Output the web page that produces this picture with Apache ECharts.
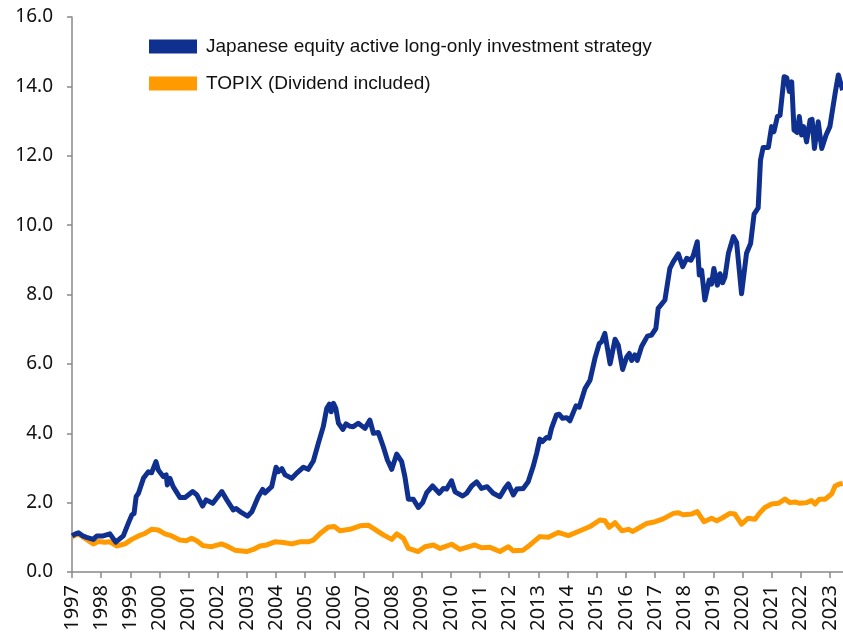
<!DOCTYPE html>
<html>
<head>
<meta charset="utf-8" />
<title>Strategy vs TOPIX</title>
<style>
  html, body { margin: 0; padding: 0; background: #fff; }
  #main { width: 843px; height: 636px; }
</style>
</head>
<body>
<div id="main"></div>
<script src="https://cdn.jsdelivr.net/npm/echarts@6/dist/echarts.min.js"></script>
<script>
// cumulative value, start 1997 = 1.0 (decimal years)
const strategyDates = [1997.0, 1997.12, 1997.22, 1997.35, 1997.5, 1997.73, 1997.85, 1998.07, 1998.3, 1998.5, 1998.76, 1998.93, 1999.05, 1999.13, 1999.2, 1999.28, 1999.45, 1999.62, 1999.73, 1999.88, 1999.96, 2000.13, 2000.23, 2000.27, 2000.36, 2000.47, 2000.7, 2000.88, 2001.14, 2001.28, 2001.48, 2001.6, 2001.83, 2002.14, 2002.31, 2002.53, 2002.63, 2002.82, 2003.02, 2003.17, 2003.39, 2003.54, 2003.62, 2003.85, 2004.0, 2004.08, 2004.2, 2004.31, 2004.54, 2004.71, 2004.94, 2005.1, 2005.28, 2005.45, 2005.62, 2005.74, 2005.83, 2005.89, 2005.97, 2006.05, 2006.14, 2006.29, 2006.4, 2006.54, 2006.65, 2006.82, 2007.05, 2007.22, 2007.34, 2007.51, 2007.68, 2007.82, 2007.97, 2008.14, 2008.31, 2008.42, 2008.54, 2008.71, 2008.88, 2009.03, 2009.17, 2009.37, 2009.6, 2009.74, 2009.85, 2010.02, 2010.14, 2010.4, 2010.54, 2010.71, 2010.88, 2011.05, 2011.24, 2011.45, 2011.68, 2011.85, 2011.97, 2012.14, 2012.26, 2012.48, 2012.65, 2012.82, 2012.94, 2013.05, 2013.14, 2013.28, 2013.37, 2013.45, 2013.62, 2013.71, 2013.83, 2013.97, 2014.08, 2014.29, 2014.4, 2014.6, 2014.77, 2014.94, 2015.09, 2015.17, 2015.28, 2015.46, 2015.63, 2015.74, 2015.89, 2016.03, 2016.12, 2016.2, 2016.31, 2016.39, 2016.54, 2016.74, 2016.88, 2017.03, 2017.11, 2017.34, 2017.51, 2017.63, 2017.8, 2017.95, 2018.09, 2018.23, 2018.31, 2018.45, 2018.52, 2018.6, 2018.71, 2018.86, 2018.94, 2019.02, 2019.14, 2019.23, 2019.32, 2019.4, 2019.52, 2019.69, 2019.8, 2019.97, 2020.14, 2020.28, 2020.4, 2020.54, 2020.62, 2020.71, 2020.89, 2021.0, 2021.08, 2021.2, 2021.29, 2021.43, 2021.52, 2021.61, 2021.69, 2021.77, 2021.88, 2021.95, 2022.03, 2022.1, 2022.2, 2022.32, 2022.39, 2022.47, 2022.6, 2022.72, 2022.87, 2023.0, 2023.18, 2023.29, 2023.44];
const strategyValues = [1.04, 1.1, 1.13, 1.05, 1.0, 0.94, 1.04, 1.04, 1.1, 0.86, 1.04, 1.4, 1.64, 1.69, 2.17, 2.27, 2.7, 2.89, 2.86, 3.18, 2.94, 2.75, 2.8, 2.51, 2.7, 2.46, 2.15, 2.15, 2.32, 2.23, 1.9, 2.08, 1.98, 2.32, 2.08, 1.79, 1.83, 1.71, 1.61, 1.74, 2.17, 2.38, 2.28, 2.46, 3.02, 2.89, 2.98, 2.8, 2.7, 2.85, 3.02, 2.96, 3.2, 3.71, 4.19, 4.72, 4.84, 4.62, 4.86, 4.72, 4.29, 4.11, 4.27, 4.2, 4.19, 4.29, 4.14, 4.38, 4.0, 4.02, 3.61, 3.23, 2.96, 3.4, 3.18, 2.75, 2.1, 2.1, 1.86, 2.0, 2.29, 2.48, 2.27, 2.41, 2.39, 2.63, 2.31, 2.19, 2.27, 2.48, 2.6, 2.41, 2.46, 2.27, 2.17, 2.41, 2.54, 2.22, 2.39, 2.41, 2.6, 3.04, 3.42, 3.83, 3.76, 3.88, 3.86, 4.14, 4.53, 4.55, 4.43, 4.45, 4.36, 4.79, 4.75, 5.29, 5.53, 6.16, 6.59, 6.64, 6.88, 6.0, 6.71, 6.54, 5.84, 6.2, 6.3, 6.1, 6.26, 6.1, 6.5, 6.8, 6.83, 7.02, 7.6, 7.84, 8.75, 8.95, 9.17, 8.8, 9.04, 8.99, 9.11, 9.52, 8.56, 8.7, 7.84, 8.42, 8.3, 8.75, 8.27, 8.6, 8.34, 8.5, 9.19, 9.67, 9.5, 8.02, 9.19, 9.47, 10.32, 10.5, 11.88, 12.24, 12.24, 12.84, 12.69, 13.13, 13.17, 14.28, 14.25, 13.85, 14.13, 12.74, 12.67, 13.13, 12.6, 12.84, 12.4, 13.03, 13.05, 12.21, 12.98, 12.21, 12.6, 12.84, 13.8, 14.33, 13.89];

const topixDates = [1997.0, 1997.22, 1997.5, 1997.73, 1997.9, 1998.13, 1998.3, 1998.53, 1998.82, 1999.05, 1999.28, 1999.5, 1999.73, 1999.96, 2000.19, 2000.42, 2000.7, 2000.92, 2001.1, 2001.28, 2001.5, 2001.79, 2002.13, 2002.36, 2002.59, 2002.99, 2003.22, 2003.45, 2003.68, 2003.96, 2004.25, 2004.54, 2004.82, 2005.1, 2005.28, 2005.5, 2005.79, 2006.0, 2006.19, 2006.54, 2006.88, 2007.16, 2007.39, 2007.68, 2007.97, 2008.14, 2008.37, 2008.54, 2008.88, 2009.11, 2009.4, 2009.63, 2010.02, 2010.31, 2010.82, 2011.05, 2011.34, 2011.68, 2011.97, 2012.14, 2012.48, 2012.71, 2013.05, 2013.34, 2013.68, 2014.03, 2014.43, 2014.77, 2015.11, 2015.28, 2015.43, 2015.63, 2015.86, 2016.09, 2016.24, 2016.49, 2016.72, 2017.01, 2017.28, 2017.63, 2017.8, 2017.97, 2018.26, 2018.45, 2018.68, 2018.94, 2019.12, 2019.29, 2019.57, 2019.74, 2019.97, 2020.2, 2020.43, 2020.58, 2020.77, 2021.0, 2021.23, 2021.46, 2021.63, 2021.8, 2021.97, 2022.2, 2022.37, 2022.49, 2022.64, 2022.83, 2023.06, 2023.18, 2023.34, 2023.44];
const topixValues = [1.02, 1.1, 0.94, 0.81, 0.88, 0.86, 0.87, 0.75, 0.81, 0.94, 1.04, 1.11, 1.23, 1.21, 1.1, 1.04, 0.92, 0.9, 0.97, 0.9, 0.76, 0.73, 0.81, 0.73, 0.63, 0.59, 0.65, 0.75, 0.78, 0.87, 0.85, 0.81, 0.87, 0.87, 0.92, 1.1, 1.29, 1.31, 1.19, 1.23, 1.33, 1.35, 1.23, 1.07, 0.94, 1.1, 0.97, 0.68, 0.59, 0.73, 0.78, 0.68, 0.8, 0.65, 0.78, 0.7, 0.71, 0.59, 0.73, 0.61, 0.63, 0.78, 1.02, 1.0, 1.14, 1.05, 1.19, 1.31, 1.5, 1.48, 1.29, 1.42, 1.19, 1.23, 1.17, 1.29, 1.4, 1.45, 1.53, 1.69, 1.71, 1.65, 1.67, 1.74, 1.45, 1.55, 1.48, 1.55, 1.69, 1.67, 1.38, 1.55, 1.52, 1.69, 1.86, 1.96, 1.98, 2.1, 2.0, 2.02, 1.98, 2.0, 2.06, 1.96, 2.1, 2.1, 2.25, 2.48, 2.54, 2.55];

const seriesNames = ['Japanese equity active long-only investment strategy', 'TOPIX (Dividend included)'];

const pairs = (xs, ys) => xs.map((x, i) => [x, ys[i]]);

const chart = echarts.init(document.getElementById('main'));
const axisGrey = '#898989';

chart.setOption({
  animation: false,
  grid: { left: 72, right: 0, top: 17, bottom: 64 },
  legend: {
    orient: 'vertical',
    left: 144,
    top: 32,
    icon: 'rect',
    itemWidth: 48,
    itemHeight: 14,
    itemGap: 18,
    textStyle: { fontFamily: 'Liberation Sans', fontSize: 19, color: '#111', padding: [0, 0, 0, 4] },
    data: seriesNames
  },
  xAxis: {
    type: 'value',
    min: 1997,
    max: 2023.45,
    interval: 1,
    splitLine: { show: false },
    axisLine: { lineStyle: { color: axisGrey, width: 1.5 } },
    axisTick: { length: 6, lineStyle: { color: axisGrey, width: 1.5 } },
    axisLabel: {
      rotate: 90,
      margin: 13,
      fontFamily: 'Noto Sans',
      fontSize: 20,
      color: '#111',
      showMaxLabel: false,
      formatter: v => (Number.isInteger(v) ? String(v) : '')
    }
  },
  yAxis: {
    type: 'value',
    min: 0,
    max: 16,
    interval: 2,
    splitLine: { show: false },
    axisLine: { show: true, lineStyle: { color: axisGrey, width: 1.5 } },
    axisTick: { show: true, length: 5, lineStyle: { color: axisGrey, width: 1.5 } },
    axisLabel: {
      margin: 19,
      fontFamily: 'Noto Sans',
      fontSize: 19,
      color: '#111',
      formatter: v => v.toFixed(1)
    }
  },
  series: [
    {
      name: seriesNames[1],
      type: 'line',
      data: pairs(topixDates, topixValues),
      showSymbol: false,
      color: '#ff9a00',
      lineStyle: { width: 5, color: '#ff9a00', join: 'round' }
    },
    {
      name: seriesNames[0],
      type: 'line',
      data: pairs(strategyDates, strategyValues),
      showSymbol: false,
      color: '#10308f',
      lineStyle: { width: 5, color: '#10308f', join: 'round' }
    }
  ]
});
</script>
</body>
</html>
